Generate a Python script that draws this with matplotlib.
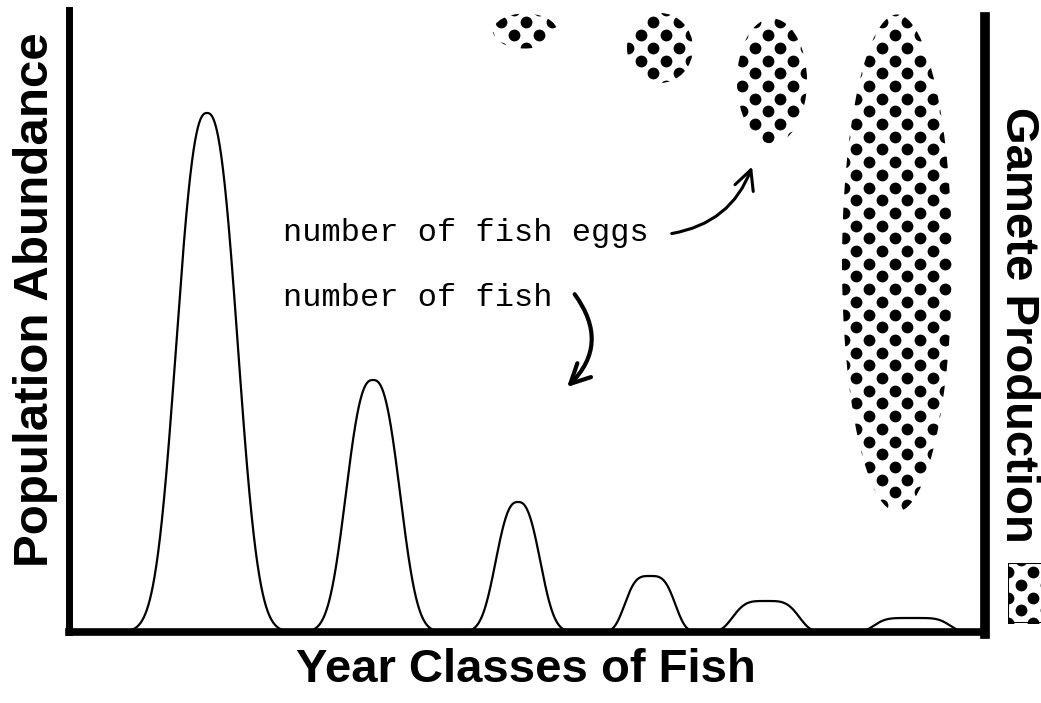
import numpy as np
import matplotlib.pyplot as plt
from matplotlib.patches import Ellipse, Rectangle, FancyArrowPatch

# figure is 1041 x 703 px, axes data units are pixels (x from left spine, y up from bottom spine)
W, H = 1041, 703
AX_L, AX_R, AX_T, AX_B = 69, 985, 10, 632

# population abundance peaks, one per year class
peak_x = [138, 304, 449, 581, 697, 843]
peak_h = [519, 252, 130, 56, 31, 14]
peak_w = [38, 33, 27, 28, 36, 40]
peak_p = [2.5, 2.6, 2.6, 3.5, 4.0, 5.0]

# gamete production blobs (center x, center y, width, height)
egg_x = [456, 591, 703, 828]
egg_y = [601, 584, 551, 369]
egg_w = [64, 66, 70, 110]
egg_h = [35, 70, 125, 497]

DOT = 12.7      # lattice step of the dot screen
DOT_S = 72      # marker size


def dot_grid(x0, x1, y0, y1, step=DOT):
    pts = []
    for i in range(int(x0 // step) - 1, int(x1 // step) + 2):
        for j in range(int(y0 // step) - 1, int(y1 // step) + 2):
            if (i + j) % 2 == 0:
                pts.append((i * step, j * step))
    return np.array(pts)


def dotted(ax, patch):
    patch.set_facecolor('white')
    patch.set_edgecolor('none')
    ax.add_patch(patch)
    x0, y0, x1, y1 = patch.get_extents().transformed(ax.transData.inverted()).extents
    pts = dot_grid(x0, x1, y0, y1)
    sc = ax.scatter(pts[:, 0], pts[:, 1], s=DOT_S, c='black', linewidths=0, clip_on=True)
    sc.set_clip_path(patch)


fig = plt.figure(figsize=(W / 100, H / 100), dpi=100)
ax = fig.add_axes([AX_L / W, (H - AX_B) / H, (AX_R - AX_L) / W, (AX_B - AX_T) / H])
ax.set_xlim(0, AX_R - AX_L)
ax.set_ylim(0, AX_B - AX_T)
ax.set_xticks([])
ax.set_yticks([])
ax.spines['top'].set_visible(False)
ax.spines['left'].set_linewidth(5.0)
ax.spines['bottom'].set_linewidth(5.5)
ax.spines['right'].set_linewidth(7.0)
ax.spines['right'].set_bounds(-2, 615)

x = np.linspace(0, AX_R - AX_L, 3000)
y = np.zeros_like(x)
for c, h, w, p in zip(peak_x, peak_h, peak_w, peak_p):
    y += h * np.exp(-np.abs((x - c) / w) ** p)
ax.plot(x, y, color='black', lw=1.6, solid_capstyle='round')

for cx, cy, w, h in zip(egg_x, egg_y, egg_w, egg_h):
    dotted(ax, Ellipse((cx, cy), w, h))

mono = dict(family='Liberation Mono', fontsize=23, color='black', va='center', ha='left')
ax.text(214, 399, 'number of fish eggs', **mono)
ax.text(214, 334, 'number of fish', **mono)

ax.add_patch(FancyArrowPatch((600, 398), (684, 468), connectionstyle='arc3,rad=0.3',
                             arrowstyle='->,head_length=0.7,head_width=0.35',
                             mutation_scale=20, lw=2.2, color='black'))
ax.add_patch(FancyArrowPatch((504, 340), (496, 243), connectionstyle='arc3,rad=-0.45',
                             arrowstyle='->,head_length=0.7,head_width=0.35',
                             mutation_scale=20, lw=3.0, color='black'))

lab = dict(family='Liberation Sans', fontweight='bold', color='black',
           ha='center', va='center')
fig.text(526 / W, 1 - 670 / H, 'Year Classes of Fish', fontsize=34, **lab)
fig.text(36 / W, 1 - 300 / H, 'Population Abundance', rotation=90, fontsize=35.5, **lab)
fig.text(1018 / W, 1 - 325 / H, 'Gamete Production', rotation=-90, fontsize=34, **lab)

# legend swatch for gamete production
lax = fig.add_axes([1008 / W, (H - 623) / H, 40 / W, 60 / H])
lax.set_xlim(0, 40)
lax.set_ylim(0, 60)
lax.axis('off')
dotted(lax, Rectangle((0, 0), 40, 60))
lax.add_patch(Rectangle((0, 0), 40, 60, facecolor='none', edgecolor='black', lw=1.5))

fig.savefig('out.png', dpi=100)
